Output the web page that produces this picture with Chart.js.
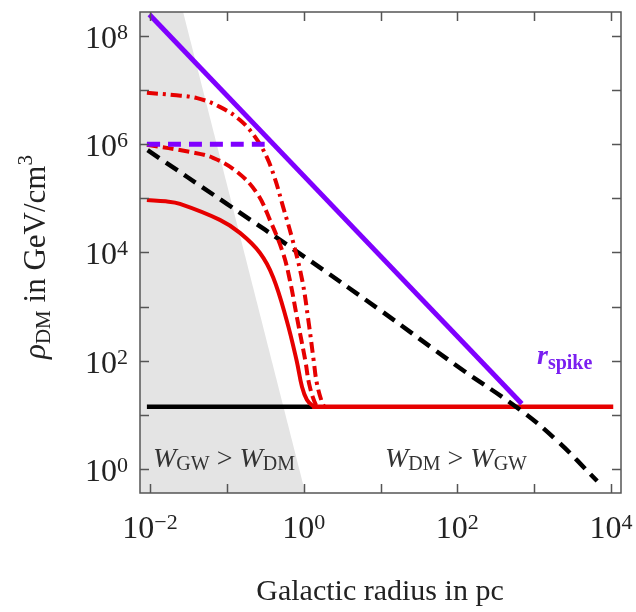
<!DOCTYPE html>
<html>
<head>
  <title>DM spike density profile</title>
  <script src="https://cdn.jsdelivr.net/npm/chart.js"></script>
  <style>
    body { margin: 0; background: #fff; }
  </style>
</head>
<body>
  <canvas id="myChart" width="636" height="612"></canvas>

  <script>
    // axis range (radius in pc, density in GeV/cm^3)
    var xMin = 0.0074, xMax = 13500;
    var yMin = 0.36, yMax = 2.77e8;

    // tick exponents and which ones get a label
    var xTickExps = [-2, -1, 0, 1, 2, 3, 4];
    var xLabelExps = [-2, 0, 2, 4];
    var yTickExps = [0, 1, 2, 3, 4, 5, 6, 7, 8];
    var yLabelExps = [0, 2, 4, 6, 8];

    // grey region W_GW > W_DM
    var shadeR = [0.005, 0.0214, 1.05];
    var shadeRho = [1e9, 1e9, 0.36];

    // spike (purple solid) and its flat core (purple dashed)
    var spikeR = [0.0098, 690];
    var spikeRho = [2.5e8, 16];
    var spikeCoreR = [0.0091, 0.37];
    var spikeCoreRho = [1.0e6, 1.0e6];

    // NFW-like halo (black dashed)
    var haloR = [0.0093, 0.1, 1, 10, 100, 660, 2000, 6600];
    var haloRho = [776000, 79000, 8500, 850, 79, 12.3, 3.3, 0.6];

    // constant density (black) and red floor
    var flatR = [0.0091, 1.32];
    var flatRho = [14.1, 14.1];
    var floorR = [1.29, 10700];
    var floorRho = [14.1, 14.1];

    // red solid
    var redAR = [0.0091, 0.016, 0.0245, 0.081, 0.148, 0.27, 0.40, 0.60, 0.81, 0.95, 1.10, 1.29, 1.45];
    var redARho = [93000, 88000, 79000, 40000, 23000, 9800, 3500, 560, 100, 33, 19, 15, 14.1];
    // red dashed
    var redBR = [0.0091, 0.033, 0.066, 0.135, 0.245, 0.363, 0.537, 0.66, 0.83, 1.05, 1.19, 1.45, 1.58];
    var redBRho = [980000, 720000, 560000, 310000, 126000, 40000, 9800, 3100, 560, 100, 35, 15, 14.1];
    // red dash-dot
    var redCR = [0.0091, 0.020, 0.041, 0.081, 0.148, 0.234, 0.331, 0.427, 0.537, 0.71, 0.955, 1.15, 1.35, 1.48, 1.74, 1.86];
    var redCRho = [8.9e6, 8.1e6, 7.1e6, 4.9e6, 2.8e6, 1.35e6, 575000, 219000, 71000, 17800, 3100, 560, 100, 39, 16.6, 14.1];

    var SERIF = '"Liberation Serif", "DejaVu Serif", serif';
    var RED = '#e60000', PURPLE = '#7f00ff';

    function pts(xs, ys) {
      return xs.map(function (x, i) { return { x: x, y: ys[i] }; });
    }

    function curve(xs, ys, color, width, dash, order) {
      return {
        data: pts(xs, ys),
        showLine: true,
        borderColor: color,
        borderWidth: width,
        borderDash: dash,
        pointRadius: 0,
        fill: false,
        tension: 0.4,
        order: order
      };
    }

    function richWidth(ctx, parts) {
      var w = 0;
      parts.forEach(function (p) { ctx.font = p.font; w += ctx.measureText(p.t).width; });
      return w;
    }

    function drawRich(ctx, parts, x, y) {
      parts.forEach(function (p) {
        ctx.font = p.font;
        ctx.fillStyle = p.color || '#222';
        ctx.fillText(p.t, x, y + (p.dy || 0));
        x += ctx.measureText(p.t).width;
      });
    }

    function powLabel(e) {
      return [
        { t: '10', font: '32px ' + SERIF },
        { t: (e < 0 ? '\u2212' : '') + Math.abs(e), font: '22px ' + SERIF, dy: -9 }
      ];
    }

    // frame, inward ticks, tick labels, titles and notes
    var framePlugin = {
      id: 'frame',
      afterDraw: function (chart) {
        var ctx = chart.ctx, a = chart.chartArea;
        var sx = chart.scales.x, sy = chart.scales.y;
        ctx.save();
        ctx.strokeStyle = '#555';
        ctx.lineWidth = 1.5;
        ctx.strokeRect(a.left, a.top, a.right - a.left, a.bottom - a.top);

        ctx.beginPath();
        xTickExps.forEach(function (e) {
          var px = Math.round(sx.getPixelForValue(Math.pow(10, e))) + 0.5;
          ctx.moveTo(px, a.bottom); ctx.lineTo(px, a.bottom - 9);
          ctx.moveTo(px, a.top); ctx.lineTo(px, a.top + 9);
        });
        yTickExps.forEach(function (e) {
          var py = Math.round(sy.getPixelForValue(Math.pow(10, e))) + 0.5;
          ctx.moveTo(a.left, py); ctx.lineTo(a.left + 9, py);
          ctx.moveTo(a.right, py); ctx.lineTo(a.right - 9, py);
        });
        ctx.stroke();

        ctx.textBaseline = 'alphabetic';
        xLabelExps.forEach(function (e) {
          var parts = powLabel(e);
          var px = sx.getPixelForValue(Math.pow(10, e));
          drawRich(ctx, parts, px - richWidth(ctx, parts) / 2, a.bottom + 45);
        });
        yLabelExps.forEach(function (e) {
          var parts = powLabel(e);
          var py = sy.getPixelForValue(Math.pow(10, e));
          drawRich(ctx, parts, a.left - 12 - richWidth(ctx, parts), py + 12);
        });

        // x title
        ctx.font = '30px ' + SERIF;
        ctx.fillStyle = '#222';
        ctx.textAlign = 'center';
        ctx.fillText('Galactic radius in pc', 380, 600);
        ctx.textAlign = 'left';

        // y title
        var yTitle = [
          { t: '\u03c1', font: 'italic 31px ' + SERIF },
          { t: 'DM', font: '21px ' + SERIF, dy: 5 },
          { t: ' in GeV/cm', font: '31px ' + SERIF },
          { t: '3', font: '21px ' + SERIF, dy: -13 }
        ];
        ctx.save();
        ctx.translate(45, 257);
        ctx.rotate(-Math.PI / 2);
        drawRich(ctx, yTitle, -richWidth(ctx, yTitle) / 2, 0);
        ctx.restore();

        // region notes
        drawRich(ctx, [
          { t: 'W', font: 'italic 28px ' + SERIF, color: '#333' },
          { t: 'GW', font: '20px ' + SERIF, dy: 3, color: '#333' },
          { t: ' > ', font: '28px ' + SERIF, color: '#333' },
          { t: 'W', font: 'italic 28px ' + SERIF, color: '#333' },
          { t: 'DM', font: '20px ' + SERIF, dy: 3, color: '#333' }
        ], 153, 467);
        drawRich(ctx, [
          { t: 'W', font: 'italic 28px ' + SERIF, color: '#333' },
          { t: 'DM', font: '20px ' + SERIF, dy: 3, color: '#333' },
          { t: ' > ', font: '28px ' + SERIF, color: '#333' },
          { t: 'W', font: 'italic 28px ' + SERIF, color: '#333' },
          { t: 'GW', font: '20px ' + SERIF, dy: 3, color: '#333' }
        ], 385, 467);
        drawRich(ctx, [
          { t: 'r', font: 'italic bold 28px ' + SERIF, color: '#7a1ff0' },
          { t: 'spike', font: 'bold 20px ' + SERIF, dy: 5, color: '#7a1ff0' }
        ], 537, 364);
        ctx.restore();
      }
    };

    var ctx = document.getElementById('myChart').getContext('2d');
    var myChart = new Chart(ctx, {
      type: 'scatter',
      data: {
        datasets: [
          {
            data: pts(shadeR, shadeRho),
            showLine: true,
            borderColor: 'rgba(0,0,0,0)',
            backgroundColor: '#e4e4e4',
            fill: 'start',
            pointRadius: 0,
            tension: 0,
            order: 10
          },
          curve(flatR, flatRho, '#000', 4.5, [], 6),
          curve(floorR, floorRho, RED, 4.5, [], 5),
          curve(haloR, haloRho, '#000', 4.5, [14, 8], 4),
          curve(redAR, redARho, RED, 4, [], 3),
          curve(redBR, redBRho, RED, 4, [11, 5], 3),
          curve(redCR, redCRho, RED, 4, [11, 5, 3, 5], 3),
          curve(spikeCoreR, spikeCoreRho, PURPLE, 5, [13, 8], 2),
          curve(spikeR, spikeRho, PURPLE, 5, [], 1)
        ]
      },
      options: {
        responsive: false,
        animation: false,
        layout: { padding: { left: 140, right: 15, top: 12, bottom: 119 } },
        plugins: { legend: { display: false }, tooltip: { enabled: false } },
        scales: {
          x: { type: 'logarithmic', min: xMin, max: xMax, display: false },
          y: { type: 'logarithmic', min: yMin, max: yMax, display: false }
        }
      },
      plugins: [framePlugin]
    });
  </script>
</body>
</html>
